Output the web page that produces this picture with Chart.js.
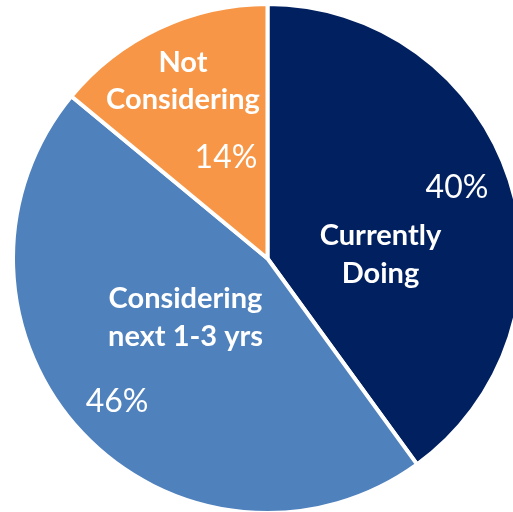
<!DOCTYPE html>
<html>
<head>
<meta charset="utf-8">
<script src="https://cdn.jsdelivr.net/npm/chart.js@4"></script>
<style>
  html, body { margin: 0; padding: 0; overflow: hidden; background: #ffffff; width: 513px; height: 512px; }
  #wrap { position: absolute; left: 10.5px; top: 2px; width: 513px; height: 513px; }
</style>
</head>
<body>
<div id="wrap"><canvas id="c"></canvas></div>
<script>
// Data
const categories = ["Currently Doing", "Considering next 1-3 yrs", "Not Considering"];
const labelLines = [["Currently", "Doing"], ["Considering", "next 1-3 yrs"], ["Not", "Considering"]];
const shareValues = [40, 46, 14];
const percentLabels = ["40%", "46%", "14%"];

// Styling / layout (not data)
const sliceColors = ["#002060", "#4F81BD", "#F79646"];
// label anchor offsets from the pie centre, as fractions of the radius
const nameAnchors = [[0.4475, -0.0188], [-0.3248, 0.2307], [-0.3347, -0.7069]];
const pctAnchors = [[0.7505, -0.2851], [-0.5960, 0.5604], [-0.1644, -0.4040]];

const FONT = "Lato, 'Open Sans', sans-serif";
const NAME_SIZE = 29, PCT_SIZE = 32, LINE_H = 37.5, CAP = 0.72;

const labelPlugin = {
  id: 'sliceLabels',
  afterDatasetsDraw(chart) {
    const ctx = chart.ctx;
    const meta = chart.getDatasetMeta(0);
    ctx.save();
    ctx.fillStyle = '#ffffff';
    ctx.textAlign = 'center';
    ctx.textBaseline = 'alphabetic';
    const R = 252.5;
    meta.data.forEach((arc, i) => {
      const cx = arc.x, cy = arc.y;
      const lines = labelLines[i];
      const nx = cx + nameAnchors[i][0] * R;
      const ny = cy + nameAnchors[i][1] * R;
      ctx.font = `bold ${NAME_SIZE}px ${FONT}`;
      lines.forEach((ln, k) => {
        const y = ny + (k - (lines.length - 1) / 2) * LINE_H + CAP * NAME_SIZE / 2;
        ctx.fillText(ln, nx, y);
      });
      ctx.font = `${PCT_SIZE}px ${FONT}`;
      const px = cx + pctAnchors[i][0] * R;
      const py = cy + pctAnchors[i][1] * R + CAP * PCT_SIZE / 2;
      ctx.fillText(percentLabels[i], px, py);
    });
    ctx.restore();
  }
};

new Chart(document.getElementById('c'), {
  type: 'pie',
  data: {
    labels: categories,
    datasets: [{
      data: shareValues,
      backgroundColor: sliceColors,
      borderColor: '#ffffff',
      borderWidth: 4
    }]
  },
  options: {
    responsive: true,
    maintainAspectRatio: false,
    animation: false,
    layout: { padding: 0 },
    plugins: {
      legend: { display: false },
      tooltip: { enabled: false }
    }
  },
  plugins: [labelPlugin]
});
</script>
</body>
</html>
